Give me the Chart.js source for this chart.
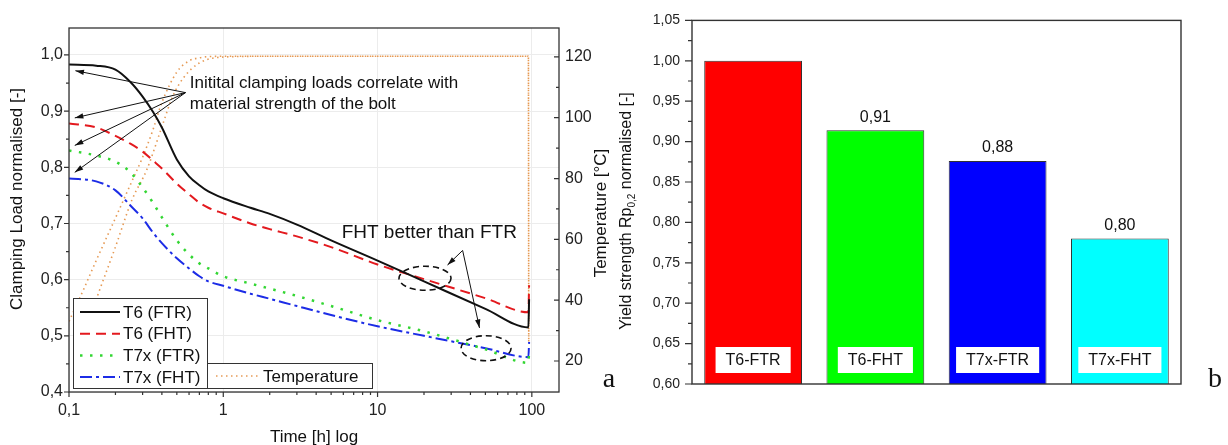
<!DOCTYPE html>
<html>
<head>
<meta charset="utf-8">
<script src="https://cdn.jsdelivr.net/npm/chart.js@4.4.1/dist/chart.umd.min.js"></script>
<style>
  html, body { margin: 0; padding: 0; background: #fff; }
  #wrap { position: relative; width: 1228px; height: 445px; overflow: hidden; }
  #left { position: absolute; left: 0; top: 0; }
  #right { position: absolute; left: 615px; top: 0; }
</style>
</head>
<body>
<div id="wrap">
  <canvas id="left" width="615" height="445"></canvas>
  <canvas id="right" width="613" height="445"></canvas>
</div>
<script>
// ---- (a) clamping load vs time, log x ----
var timeH   = [0.1, 0.15, 0.2, 0.25, 0.3, 0.35, 0.4, 0.5, 0.6, 0.7, 0.8, 1, 1.5, 2, 3, 5, 10, 20, 50, 95, 96];
var t6Ftr   = [0.983, 0.981, 0.974, 0.952, 0.926, 0.899, 0.871, 0.814, 0.784, 0.768, 0.757, 0.745, 0.728, 0.717, 0.698, 0.670, 0.634, 0.597, 0.548, 0.515, 0.565];
var t6Fht   = [0.878, 0.871, 0.856, 0.842, 0.828, 0.812, 0.798, 0.771, 0.752, 0.737, 0.728, 0.718, 0.700, 0.690, 0.677, 0.658, 0.627, 0.601, 0.567, 0.542, 0.590];
var t7xFtr  = [0.830, 0.821, 0.810, 0.791, 0.764, 0.737, 0.711, 0.670, 0.645, 0.629, 0.620, 0.606, 0.593, 0.584, 0.571, 0.553, 0.528, 0.508, 0.476, 0.452, 0.475];
var t7xFht  = [0.780, 0.775, 0.759, 0.732, 0.709, 0.684, 0.665, 0.638, 0.620, 0.606, 0.597, 0.589, 0.575, 0.566, 0.553, 0.537, 0.517, 0.500, 0.478, 0.462, 0.489];

var tempTimeA = [0.1, 0.123, 0.15, 0.2, 0.25, 0.3, 0.35, 0.4, 0.5, 0.6, 0.7, 0.8, 1, 2, 10, 95, 95.5];
var tempA     = [33, 43, 53, 67, 78, 87, 96, 105, 115, 118.7, 119.7, 120.1, 120.2, 120.2, 120.2, 120.2, 26];
var tempTimeB = [0.12, 0.152, 0.2, 0.256, 0.32, 0.4, 0.47, 0.55, 0.7, 1.05, 2, 10, 95, 95.5];
var tempB     = [26, 41, 57.5, 73, 83, 97, 107, 113, 118, 120, 120.2, 120.2, 120.2, 26];

var loadTicks = [0.4, 0.5, 0.6, 0.7, 0.8, 0.9, 1.0];
var tempTicks = [20, 40, 60, 80, 100, 120];
var timeTicks = [0.1, 1, 10, 100];

// ---- (b) yield strength ----
var barLabels    = ['T6-FTR', 'T6-FHT', 'T7x-FTR', 'T7x-FHT'];
var barValues    = [1.0, 0.914, 0.876, 0.78];
var barValueText = ['', '0,91', '0,88', '0,80'];
var barColors    = ['#ff0000', '#00ff00', '#0000ff', '#00ffff'];
var yieldTicks   = [0.60, 0.65, 0.70, 0.75, 0.80, 0.85, 0.90, 0.95, 1.00, 1.05];

var SANS = "'Liberation Sans', Arial, sans-serif";
var SERIF = "'Liberation Serif', 'Times New Roman', serif";
Chart.defaults.font.family = SANS;
Chart.defaults.color = '#222';

function pts(xs, ys) {
    return xs.map(function (t, i) { return {x: t, y: ys[i]}; });
}

function vText(ctx, str, x, y, font) {
    ctx.save();
    ctx.translate(x, y);
    ctx.rotate(-Math.PI / 2);
    ctx.font = font;
    ctx.textAlign = 'center';
    ctx.textBaseline = 'middle';
    ctx.fillText(str, 0, 0);
    ctx.restore();
}

function arrow(ctx, x0, y0, x1, y1, head) {
    ctx.beginPath();
    ctx.moveTo(x0, y0);
    ctx.lineTo(x1, y1);
    ctx.stroke();
    var ang = Math.atan2(y1 - y0, x1 - x0);
    ctx.beginPath();
    ctx.moveTo(x1, y1);
    ctx.lineTo(x1 - head * Math.cos(ang - 0.3), y1 - head * Math.sin(ang - 0.3));
    ctx.lineTo(x1 - head * Math.cos(ang + 0.3), y1 - head * Math.sin(ang + 0.3));
    ctx.closePath();
    ctx.fill();
}

var datasetsA = [
    {label: 'T6 (FTR)', data: pts(timeH, t6Ftr), borderColor: '#111111', borderWidth: 2, yAxisID: 'y'},
    {label: 'T6 (FHT)', data: pts(timeH, t6Fht), borderColor: '#e3191e', borderWidth: 2, borderDash: [10, 6], yAxisID: 'y'},
    {label: 'T7x (FTR)', data: pts(timeH, t7xFtr), borderColor: '#33d633', borderWidth: 2.5, borderDash: [2.5, 7.5], yAxisID: 'y'},
    {label: 'T7x (FHT)', data: pts(timeH, t7xFht), borderColor: '#1c2ce6', borderWidth: 2, borderDash: [12, 4, 3, 4], yAxisID: 'y'},
    {label: 'Temperature', data: pts(tempTimeA, tempA), borderColor: '#e69a55', borderWidth: 1.6, borderDash: [1.5, 3.5], yAxisID: 'y2'},
    {label: 'Temperature', data: pts(tempTimeB, tempB), borderColor: '#e69a55', borderWidth: 1.6, borderDash: [1.5, 3.5], yAxisID: 'y2'}
];

var leftDecor = {
    id: 'leftDecor',
    afterDatasetsDraw: function (chart) {
        var ctx = chart.ctx, a = chart.chartArea;
        var x = chart.scales.x, y = chart.scales.y, y2 = chart.scales.y2;
        function P(t, v) { return [x.getPixelForValue(t), y.getPixelForValue(v)]; }
        ctx.save();

        // legend boxes
        ctx.fillStyle = '#fff';
        ctx.strokeStyle = '#333';
        ctx.lineWidth = 1;
        ctx.fillRect(a.left + 4, a.bottom - 94, 134, 90);
        ctx.strokeRect(a.left + 4.5, a.bottom - 93.5, 134, 90);
        ctx.fillRect(a.left + 138, a.bottom - 29, 165, 25);
        ctx.strokeRect(a.left + 138.5, a.bottom - 28.5, 165, 25);
        ctx.font = '17px ' + SANS;
        ctx.textBaseline = 'middle';
        ctx.textAlign = 'left';
        [0, 1, 2, 3].forEach(function (i) {
            var ds = chart.data.datasets[i];
            var ly = a.bottom - 80 + i * 21.7;
            ctx.strokeStyle = ds.borderColor;
            ctx.lineWidth = ds.borderWidth;
            ctx.setLineDash(ds.borderDash || []);
            ctx.beginPath();
            ctx.moveTo(a.left + 11, ly);
            ctx.lineTo(a.left + 51, ly);
            ctx.stroke();
            ctx.fillStyle = '#111';
            ctx.fillText(ds.label, a.left + 54, ly + 1);
        });
        var tds = chart.data.datasets[4];
        ctx.strokeStyle = tds.borderColor;
        ctx.lineWidth = tds.borderWidth;
        ctx.setLineDash(tds.borderDash);
        ctx.beginPath();
        ctx.moveTo(a.left + 147, a.bottom - 16);
        ctx.lineTo(a.left + 190, a.bottom - 16);
        ctx.stroke();
        ctx.setLineDash([]);
        ctx.fillStyle = '#111';
        ctx.fillText(tds.label, a.left + 194, a.bottom - 15);

        // annotation: initial clamping loads
        ctx.strokeStyle = '#111';
        ctx.fillStyle = '#111';
        ctx.lineWidth = 1;
        var src = P(0.569, 0.933);
        [[0.11, 0.972], [0.109, 0.888], [0.109, 0.839], [0.109, 0.791]].forEach(function (tg) {
            var q = P(tg[0], tg[1]);
            arrow(ctx, src[0], src[1], q[0], q[1], 9);
        });
        ctx.font = '17px ' + SANS;
        var t1 = P(0.607, 0.949), t2 = P(0.607, 0.913);
        ctx.fillText('Initital clamping loads correlate with', t1[0], t1[1]);
        ctx.fillText('material strength of the bolt', t2[0], t2[1]);

        // annotation: FHT better than FTR
        ctx.font = '19px ' + SANS;
        var t3 = P(5.85, 0.684);
        ctx.fillText('FHT better than FTR', t3[0], t3[1]);
        var s2 = P(35.6, 0.652);
        [[28.4, 0.626], [45.8, 0.514]].forEach(function (tg) {
            var q = P(tg[0], tg[1]);
            arrow(ctx, s2[0], s2[1], q[0], q[1], 9);
        });
        ctx.setLineDash([6, 4]);
        ctx.lineWidth = 1.6;
        [[20.3, 0.6025, 26, 12], [50.5, 0.478, 25, 12.5]].forEach(function (e) {
            var c = P(e[0], e[1]);
            ctx.beginPath();
            ctx.ellipse(c[0], c[1], e[2], e[3], 0, 0, Math.PI * 2);
            ctx.stroke();
        });
        ctx.setLineDash([]);

        // frame
        ctx.strokeStyle = '#333';
        ctx.lineWidth = 1.3;
        ctx.strokeRect(a.left, a.top, a.right - a.left, a.bottom - a.top);

        // ticks
        ctx.lineWidth = 1.2;
        ctx.beginPath();
        for (var v = 0.4; v <= 1.0001; v += 0.05) {
            var py = y.getPixelForValue(v);
            var major = Math.abs(v * 10 - Math.round(v * 10)) < 0.01;
            ctx.moveTo(a.left, py);
            ctx.lineTo(a.left - (major ? 5 : 3), py);
        }
        for (var tC = 20; tC <= 120; tC += 10) {
            var pt = y2.getPixelForValue(tC);
            ctx.moveTo(a.right, pt);
            ctx.lineTo(a.right - (tC % 20 === 0 ? 5 : 3), pt);
        }
        timeTicks.forEach(function (d) {
            for (var k = 1; k <= 9; k++) {
                var tv = d * k;
                if (tv > x.max) break;
                var px = x.getPixelForValue(tv);
                ctx.moveTo(px, a.bottom);
                ctx.lineTo(px, a.bottom + (k === 1 ? 5 : 3));
            }
        });
        ctx.stroke();

        // axis titles
        ctx.fillStyle = '#111';
        vText(ctx, 'Clamping Load normalised [-]', 17, 199, '17px ' + SANS);
        vText(ctx, 'Temperature [°C]', 601, 213, '17px ' + SANS);
        ctx.font = '17px ' + SANS;
        ctx.textAlign = 'center';
        ctx.fillText('Time [h] log', (a.left + a.right) / 2, 437);

        // panel letter
        ctx.font = '28px ' + SERIF;
        ctx.textBaseline = 'alphabetic';
        ctx.fillText('a', 609, 387);
        ctx.restore();
    }
};

new Chart(document.getElementById('left').getContext('2d'), {
    type: 'line',
    data: {datasets: datasetsA},
    options: {
        responsive: false,
        animation: false,
        devicePixelRatio: 1,
        layout: {padding: {top: 28, right: 0, left: 0, bottom: 0}},
        elements: {point: {radius: 0}, line: {cubicInterpolationMode: 'monotone', fill: false}},
        plugins: {legend: {display: false}, tooltip: {enabled: false}},
        scales: {
            x: {
                type: 'logarithmic', min: 0.1, max: 150, position: 'bottom',
                afterBuildTicks: function (s) { s.ticks = timeTicks.map(function (v) { return {value: v}; }); },
                afterFit: function (s) { s.height = 53; },
                ticks: {
                    font: {size: 16}, padding: 9, maxRotation: 0, autoSkip: false,
                    callback: function (v) { return String(v).replace('.', ','); }
                },
                grid: {color: '#ececec', drawTicks: false},
                border: {display: false}
            },
            y: {
                min: 0.4, max: 1.048, position: 'left',
                afterBuildTicks: function (s) { s.ticks = loadTicks.map(function (v) { return {value: v}; }); },
                afterFit: function (s) { s.width = 69; },
                ticks: {
                    font: {size: 16}, padding: 6,
                    callback: function (v) { return v.toFixed(1).replace('.', ','); }
                },
                grid: {color: '#ececec', drawTicks: false},
                border: {display: false}
            },
            y2: {
                min: 9.8, max: 129.5, position: 'right',
                afterBuildTicks: function (s) { s.ticks = tempTicks.map(function (v) { return {value: v}; }); },
                afterFit: function (s) { s.width = 56; },
                ticks: {font: {size: 16}, padding: 6},
                grid: {display: false, drawTicks: false},
                border: {display: false}
            }
        }
    },
    plugins: [leftDecor]
});

var rightDecor = {
    id: 'rightDecor',
    afterDatasetsDraw: function (chart) {
        var ctx = chart.ctx, a = chart.chartArea, y = chart.scales.y;
        var bars = chart.getDatasetMeta(0).data;
        ctx.save();

        // frame
        ctx.strokeStyle = '#333';
        ctx.lineWidth = 1.4;
        ctx.strokeRect(a.left, a.top, a.right - a.left, a.bottom - a.top);

        // ticks
        ctx.lineWidth = 1.2;
        ctx.beginPath();
        for (var i = 0; i <= 18; i++) {
            var v = 0.6 + i * 0.025;
            var py = y.getPixelForValue(v);
            ctx.moveTo(a.left, py);
            ctx.lineTo(a.left - (i % 2 === 0 ? 7 : 4), py);
        }
        ctx.stroke();

        // values above bars and labels inside bars
        ctx.textAlign = 'center';
        ctx.textBaseline = 'middle';
        bars.forEach(function (b, k) {
            ctx.fillStyle = '#111';
            ctx.font = '16px ' + SANS;
            if (barValueText[k]) ctx.fillText(barValueText[k], b.x, b.y - 13);
            var w = ctx.measureText(barLabels[k]).width + 20;
            ctx.fillStyle = '#fff';
            ctx.fillRect(b.x - w / 2, a.bottom - 37, w, 26);
            ctx.fillStyle = '#111';
            ctx.fillText(barLabels[k], b.x, a.bottom - 23.5);
        });

        // y title with subscript
        ctx.save();
        ctx.translate(12, 211);
        ctx.rotate(-Math.PI / 2);
        ctx.textAlign = 'left';
        ctx.textBaseline = 'middle';
        var big = '16px ' + SANS, small = '10px ' + SANS;
        var p1 = 'Yield strength Rp', p2 = '0,2', p3 = ' normalised [-]';
        ctx.font = big; var w1 = ctx.measureText(p1).width, w3 = ctx.measureText(p3).width;
        ctx.font = small; var w2 = ctx.measureText(p2).width;
        var x0 = -(w1 + w2 + w3) / 2;
        ctx.fillStyle = '#111';
        ctx.font = big; ctx.fillText(p1, x0, 0);
        ctx.font = small; ctx.fillText(p2, x0 + w1, 5);
        ctx.font = big; ctx.fillText(p3, x0 + w1 + w2, 0);
        ctx.restore();

        // panel letter
        ctx.fillStyle = '#111';
        ctx.font = '28px ' + SERIF;
        ctx.textAlign = 'center';
        ctx.textBaseline = 'alphabetic';
        ctx.fillText('b', 600, 387);
        ctx.restore();
    }
};

new Chart(document.getElementById('right').getContext('2d'), {
    type: 'bar',
    data: {
        labels: barLabels,
        datasets: [{
            data: barValues,
            backgroundColor: barColors,
            borderColor: '#333',
            borderWidth: 1,
            borderSkipped: false,
            barPercentage: 0.8,
            categoryPercentage: 1.0
        }]
    },
    options: {
        responsive: false,
        animation: false,
        devicePixelRatio: 1,
        layout: {padding: {top: 19, right: 47, left: 0, bottom: 0}},
        plugins: {legend: {display: false}, tooltip: {enabled: false}},
        scales: {
            x: {
                afterFit: function (s) { s.height = 61; },
                ticks: {display: false},
                grid: {display: false, drawTicks: false},
                border: {display: false}
            },
            y: {
                min: 0.6, max: 1.05,
                afterBuildTicks: function (s) { s.ticks = yieldTicks.map(function (v) { return {value: v}; }); },
                afterFit: function (s) { s.width = 77; },
                ticks: {
                    font: {size: 14}, padding: 12,
                    callback: function (v) { return v.toFixed(2).replace('.', ','); }
                },
                grid: {display: false, drawTicks: false},
                border: {display: false}
            }
        }
    },
    plugins: [rightDecor]
});
</script>
</body>
</html>
